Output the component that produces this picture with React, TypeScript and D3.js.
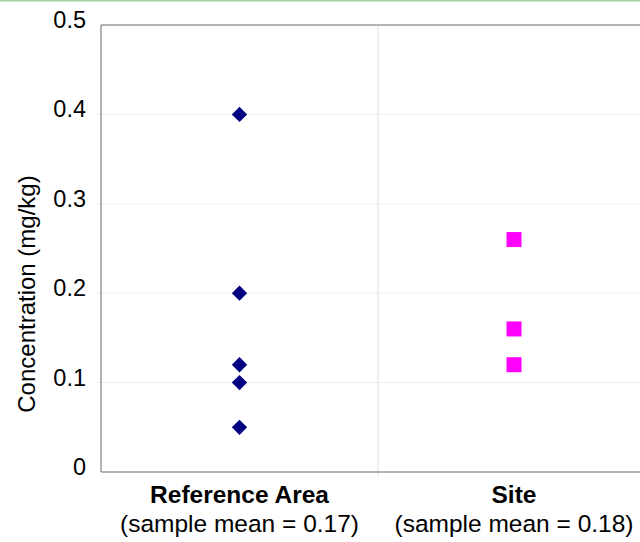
import React from "react";
import * as d3 from "d3";

const categories = ["Reference Area", "Site"];
const subLabels = ["(sample mean = 0.17)", "(sample mean = 0.18)"];
const referenceValues = [0.4, 0.2, 0.12, 0.1, 0.05];
const siteValues = [0.26, 0.16, 0.12];
const yTicks = [0, 0.1, 0.2, 0.3, 0.4, 0.5];
const yTickLabels = ["0", "0.1", "0.2", "0.3", "0.4", "0.5"];

const W = 640;
const H = 542;
const left = 101;
const right = 655;
const top = 25;
const bottom = 472;
const font = "'Liberation Sans', Arial, sans-serif";

export default function App() {
  const x = d3.scaleBand<string>().domain(categories).range([left, right]);
  const y = d3.scaleLinear().domain([0, 0.5]).range([bottom, top]);
  const diamond = d3.symbol().type(d3.symbolDiamond2).size(150)();
  const center = (c: string, i: number) => x(c)! + x.bandwidth() / 2 - (i === 1 ? 2.5 : 0);
  const sq = 15;
  return (
    <svg width={W} height={H} style={{ position: "absolute", left: 0, top: 0, background: "#fff" }}>
      <rect x={0} y={0} width={W} height={H} fill="#fff" />
      <line x1={0} x2={W} y1={0.5} y2={0.5} stroke="#9fd89f" strokeWidth={2} />
      {yTicks.slice(1, 5).map((t) => (
        <line key={"g" + t} x1={left - 4} x2={W} y1={y(t)} y2={y(t)} stroke="#eeeeee" strokeWidth={1} />
      ))}
      <line x1={x(categories[1])!} x2={x(categories[1])!} y1={top} y2={bottom + 4} stroke="#dddddd" strokeWidth={1} />
      <line x1={left} x2={W} y1={top} y2={top} stroke="#999" strokeWidth={1.5} />
      <line x1={left} x2={left} y1={top} y2={bottom} stroke="#999" strokeWidth={1.5} />
      <line x1={left} x2={W} y1={bottom} y2={bottom} stroke="#999" strokeWidth={1.5} />
      {yTicks.map((t, i) => (
        <text key={"t" + t} x={86} y={y(t) + 3} textAnchor="end"
          fontFamily={font} fontSize={23.5} fill="#000">
          {yTickLabels[i]}
        </text>
      ))}
      <text transform={`translate(35,294) rotate(-90)`} textAnchor="middle"
        fontFamily={font} fontSize={24} fill="#000">
        Concentration (mg/kg)
      </text>
      {categories.map((c, i) => (
        <g key={c}>
          <text x={center(c, i)} y={503} textAnchor="middle" fontFamily={font}
            fontSize={24.5} fontWeight="bold" fill="#000">{c}</text>
          <text x={center(c, i)} y={532} textAnchor="middle" fontFamily={font}
            fontSize={24.5} fill="#000">{subLabels[i]}</text>
        </g>
      ))}
      {referenceValues.map((v, i) => (
        <path key={"r" + i} d={diamond!} transform={`translate(${center(categories[0], 0)},${y(v)})`} fill="#000080" />
      ))}
      {siteValues.map((v, i) => (
        <rect key={"s" + i} x={center(categories[1], 1) - sq / 2} y={y(v) - sq / 2} width={sq} height={sq} fill="#ff00ff" />
      ))}
    </svg>
  );
}
